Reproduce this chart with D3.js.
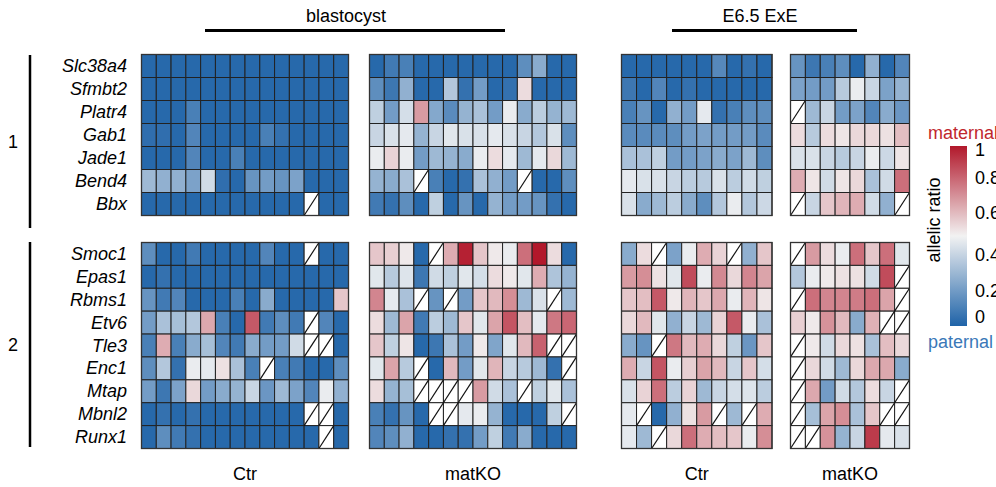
<!DOCTYPE html>
<html><head><meta charset="utf-8">
<script src="https://cdn.jsdelivr.net/npm/d3@7"></script>
<style>body{margin:0;background:#fff}svg{display:block}text{font-family:"Liberation Sans",Arial,sans-serif}</style>
</head><body><svg id="c" width="996" height="487"></svg>
<script>
const N = null;
const genes1 = ["Slc38a4","Sfmbt2","Platr4","Gab1","Jade1","Bend4","Bbx"];
const genes2 = ["Smoc1","Epas1","Rbms1","Etv6","Tle3","Enc1","Mtap","Mbnl2","Runx1"];
const groupLabels = ["1","2"];
const stageLabels = ["blastocyst","E6.5 ExE"];
const conditionLabels = ["Ctr","matKO","Ctr","matKO"];
const legendTicks = [0,0.2,0.4,0.6,0.8,1];

// blastocyst Ctr (14 embryos)
const blastCtr1 = [
 [0.02,0.02,0.02,0.02,0.02,0.02,0.02,0.02,0.02,0.02,0.02,0.02,0.02,0.02],
 [0.02,0.02,0.02,0.02,0.02,0.02,0.02,0.02,0.02,0.02,0.02,0.02,0.02,0.02],
 [0.02,0.02,0.02,0.1,0.02,0.02,0.02,0.02,0.02,0.02,0.02,0.02,0.02,0.02],
 [0.04,0.04,0.02,0.12,0.02,0.02,0.02,0.02,0.1,0.05,0.02,0.02,0.02,0.02],
 [0.02,0.02,0.02,0.12,0.02,0.02,0.1,0.02,0.02,0.02,0.02,0.02,0.02,0.02],
 [0.3,0.27,0.27,0.22,0.42,0.04,0.02,0.17,0.2,0.17,0.22,0.02,0.02,0.02],
 [0.02,0.02,0.02,0.02,0.02,0.02,0.02,0.02,0.02,0.02,0.02,N,0.02,0.02]
];
const blastCtr2 = [
 [0.15,0.02,0.02,0.08,0.02,0.02,0.02,0.02,0.12,0.02,0.02,N,0.02,0.02],
 [0.02,0.05,0.02,0.02,0.02,0.02,0.02,0.02,0.02,0.02,0.02,0.02,0.02,0.02],
 [0.17,0.08,0.12,0.02,0.02,0.02,0.1,0.02,0.25,0.02,0.02,0.02,0.02,0.6],
 [0.2,0.33,0.32,0.35,0.67,0.1,0.02,0.85,0.08,0.15,0.08,N,0.12,0.02],
 [0.1,0.66,0.1,0.25,0.32,0.12,0.08,0.25,0.2,0.2,0.42,N,N,0.02],
 [0.15,0.35,0.05,0.48,0.47,0.54,0.33,0.1,N,0.1,0.08,0.02,0.02,0.15],
 [0.2,0.07,0.22,0.56,0.2,0.25,0.28,0.4,0.18,0.3,0.22,0.12,0.48,0.27],
 [0.02,0.05,0.02,0.05,0.02,0.02,0.02,0.02,0.02,0.02,0.02,N,N,0.02],
 [0.02,0.15,0.08,0.05,0.02,0.02,0.02,0.02,0.02,0.02,0.02,0.02,N,0.02]
];
// blastocyst matKO (14 embryos)
const blastKO1 = [
 [0.02,0.08,0.1,0.02,0.02,0.02,0.02,0.02,0.02,0.02,0.15,0.25,0.02,0.02],
 [0.15,0.07,0.27,0.02,0.02,0.35,0.05,0.2,0.02,0.05,0.55,0.02,0.02,0.02],
 [0.38,0.2,0.43,0.7,0.24,0.14,0.28,0.33,0.2,0.48,0.25,0.37,0.28,0.3],
 [0.4,0.44,0.47,0.28,0.4,0.46,0.44,0.44,0.47,0.44,0.4,0.35,0.44,0.15],
 [0.48,0.57,0.48,0.2,0.3,0.28,0.25,0.48,0.55,0.47,0.3,0.47,0.56,0.3],
 [0.28,0.25,0.33,N,0.1,0.02,0.05,0.33,0.27,0.2,N,0.02,0.02,0.15],
 [0.08,0.05,0.15,0.02,0.38,0.02,0.17,0.02,0.28,0.2,0.2,0.17,0.05,0.02]
];
const blastKO2 = [
 [0.6,0.58,0.52,0.02,N,0.66,0.98,0.6,0.52,0.48,0.8,1.0,0.55,0.02],
 [0.46,0.36,0.45,0.07,0.42,0.38,0.46,0.43,0.55,0.52,0.46,0.66,0.34,0.28],
 [0.75,0.47,0.33,N,0.17,N,0.2,0.6,0.63,0.73,0.3,0.44,N,0.3],
 [0.55,0.3,0.68,0.08,0.37,0.3,0.6,0.46,0.68,0.86,0.62,0.47,0.78,0.82],
 [0.6,0.38,0.53,0.02,0.07,0.33,0.2,0.52,0.23,0.46,0.63,0.83,N,N],
 [0.46,0.68,0.36,N,0.02,0.63,0.2,0.46,0.64,0.4,0.36,0.3,0.05,N],
 [0.55,0.28,0.32,N,N,N,N,0.7,0.42,0.33,N,0.38,0.46,0.33],
 [0.1,0.05,0.17,0.02,N,N,0.47,0.48,0.28,0.02,0.02,0.02,0.38,N],
 [0.12,0.15,0.27,0.02,0.02,0.05,0.05,0.2,0.38,0.08,0.25,0.02,0.02,0.02]
];
// E6.5 ExE Ctr (10 embryos)
const exeCtr1 = [
 [0.02,0.02,0.02,0.02,0.02,0.02,0.13,0.02,0.05,0.02],
 [0.07,0.02,0.12,0.02,0.05,0.02,0.02,0.02,0.02,0.02],
 [0.1,0.17,0.02,0.27,0.2,0.47,0.05,0.1,0.15,0.15],
 [0.14,0.14,0.14,0.15,0.2,0.22,0.2,0.2,0.2,0.14],
 [0.33,0.33,0.38,0.2,0.2,0.22,0.25,0.22,0.3,0.15],
 [0.47,0.44,0.44,0.4,0.37,0.36,0.44,0.37,0.42,0.38],
 [0.44,0.25,0.3,0.37,0.25,0.15,0.35,0.48,0.35,0.41]
];
const exeCtr2 = [
 [0.25,0.55,N,0.22,0.48,0.66,0.57,N,0.27,0.6],
 [0.7,0.73,0.54,0.46,0.88,0.48,0.74,0.56,0.75,0.68],
 [0.6,0.62,0.85,0.52,0.64,0.6,0.67,0.48,0.64,0.53],
 [0.56,0.63,0.46,0.27,0.4,0.3,0.57,0.85,0.48,0.33],
 [0.25,0.17,N,0.78,0.63,0.66,0.56,0.38,0.18,0.6],
 [0.66,0.4,0.86,0.48,0.58,0.68,0.63,0.4,0.6,0.43],
 [0.44,0.57,0.8,0.37,0.57,0.3,0.4,0.43,0.45,0.37],
 [0.47,N,0.02,0.27,0.54,0.7,N,0.3,N,0.66],
 [0.47,0.3,N,0.56,0.8,0.66,0.62,0.6,0.48,0.73]
];
// E6.5 ExE matKO (8 embryos)
const exeKO1 = [
 [0.17,0.07,0.1,0.15,0.02,0.27,0.02,0.12],
 [0.22,0.2,0.2,0.36,0.48,0.4,0.22,0.28],
 [N,0.3,0.4,0.2,0.22,0.12,0.25,0.18],
 [0.55,0.36,0.55,0.53,0.56,0.56,0.54,0.62],
 [0.44,0.44,0.4,0.36,0.4,0.48,0.41,0.53],
 [0.66,0.53,0.42,0.53,0.56,0.33,0.42,0.8],
 [N,0.4,0.6,0.64,0.66,0.42,0.27,N]
];
const exeKO2 = [
 [N,0.7,0.55,0.48,0.8,0.6,0.8,0.46],
 [0.35,0.48,0.52,0.54,0.54,0.42,0.88,N],
 [N,0.8,0.75,0.75,0.77,0.8,0.68,N],
 [0.58,0.52,0.72,0.63,0.25,0.65,N,N],
 [N,0.52,0.42,0.56,0.54,0.33,0.62,0.56],
 [N,0.56,0.42,0.3,0.56,0.67,0.67,0.25],
 [N,0.67,0.2,0.42,0.35,0.55,0.4,N],
 [N,0.32,0.68,0.73,0.33,0.6,N,N],
 [N,N,0.72,0.28,0.4,0.92,0.47,0.44]
];

const svg = d3.select("#c");
const color = d3.scaleLinear().domain([0,0.5,1]).range(["#1f63a8","#f2f2f2","#b2182b"]).clamp(true);

const panels = [
  {x:[141.5,348.5], d:[blastCtr1, blastCtr2], label:conditionLabels[0]},
  {x:[369.5,576.5], d:[blastKO1, blastKO2], label:conditionLabels[1]},
  {x:[621.5,772], d:[exeCtr1, exeCtr2], label:conditionLabels[2]},
  {x:[790.5,909.5], d:[exeKO1, exeKO2], label:conditionLabels[3]}
];
const groups = [
  {genes:genes1, y:[54.5,215.5], bar:[55,228], label:groupLabels[0]},
  {genes:genes2, y:[242.5,448.5], bar:[242,447], label:groupLabels[1]}
];

groups.forEach((g,gi)=>{
  const y = d3.scaleBand().domain(g.genes).range(g.y);
  svg.append("g").selectAll("text").data(g.genes).join("text")
    .attr("x",127).attr("y",d=>y(d)+y.bandwidth()/2)
    .attr("text-anchor","end").attr("dominant-baseline","central")
    .attr("font-style","italic").attr("font-size",18).attr("fill","#000").text(d=>d);
  svg.append("line").attr("x1",30).attr("x2",30).attr("y1",g.bar[0]).attr("y2",g.bar[1])
    .attr("stroke","#000").attr("stroke-width",2.5);
  svg.append("text").attr("x",13).attr("y",(g.bar[0]+g.bar[1])/2).attr("text-anchor","middle")
    .attr("dominant-baseline","central").attr("font-size",18).text(g.label);

  panels.forEach(p=>{
    const data = p.d[gi];
    const x = d3.scaleBand().domain(d3.range(data[0].length)).range(p.x);
    const cells = [];
    data.forEach((row,ri)=>row.forEach((v,ci)=>cells.push({g:g.genes[ri],c:ci,v})));
    const gg = svg.append("g");
    gg.selectAll("rect").data(cells).join("rect")
      .attr("x",d=>x(d.c)).attr("y",d=>y(d.g))
      .attr("width",x.bandwidth()).attr("height",y.bandwidth())
      .attr("fill",d=>d.v==null?"#fff":color(d.v))
      .attr("stroke","#222").attr("stroke-width",1);
    gg.selectAll("line").data(cells.filter(d=>d.v==null)).join("line")
      .attr("x1",d=>x(d.c)).attr("y1",d=>y(d.g)+y.bandwidth())
      .attr("x2",d=>x(d.c)+x.bandwidth()).attr("y2",d=>y(d.g))
      .attr("stroke","#111").attr("stroke-width",1.2);
    gg.append("rect").attr("x",p.x[0]).attr("y",g.y[0]).attr("width",p.x[1]-p.x[0]).attr("height",g.y[1]-g.y[0])
      .attr("fill","none").attr("stroke","#333").attr("stroke-width",1.3);
  });
});

panels.forEach(p=>{
  svg.append("text").attr("x",(p.x[0]+p.x[1])/2).attr("y",474).attr("text-anchor","middle")
    .attr("dominant-baseline","central").attr("font-size",18).text(p.label);
});
const stages = [{x:[205,505], tx:346},{x:[672,857], tx:760}];
stages.forEach((s,i)=>{
  svg.append("line").attr("x1",s.x[0]).attr("x2",s.x[1]).attr("y1",30.5).attr("y2",30.5)
    .attr("stroke","#000").attr("stroke-width",3);
  svg.append("text").attr("x",s.tx).attr("y",16).attr("text-anchor","middle")
    .attr("dominant-baseline","central").attr("font-size",18).text(stageLabels[i]);
});

// legend
const defs = svg.append("defs");
const grad = defs.append("linearGradient").attr("id","lg").attr("x1",0).attr("x2",0).attr("y1",1).attr("y2",0);
d3.range(0,1.0001,0.05).forEach(t=>grad.append("stop").attr("offset",t).attr("stop-color",color(t)));
const lx = 950, lw = 17, ly0 = 146, ly1 = 326;
svg.append("rect").attr("x",lx).attr("y",ly0).attr("width",lw).attr("height",ly1-ly0).attr("fill","url(#lg)");
const ls = d3.scaleLinear().domain([0,0.2,0.4,0.6,0.8,1]).range([317,291,255,213,178,150]);
svg.append("g").selectAll("text").data(legendTicks).join("text")
  .attr("x",975).attr("y",d=>ls(d)).attr("dominant-baseline","central").attr("font-size",18)
  .text(d=>d3.format("")(d));
svg.append("text").attr("x",928).attr("y",133).attr("dominant-baseline","central").attr("font-size",18)
  .attr("fill","#c0272d").text("maternal");
svg.append("text").attr("x",928).attr("y",342).attr("dominant-baseline","central").attr("font-size",18)
  .attr("fill","#3a78b8").text("paternal");
svg.append("text").attr("transform","translate(934,220) rotate(-90)").attr("text-anchor","middle")
  .attr("dominant-baseline","central").attr("font-size",18).text("allelic ratio");
</script></body></html>
